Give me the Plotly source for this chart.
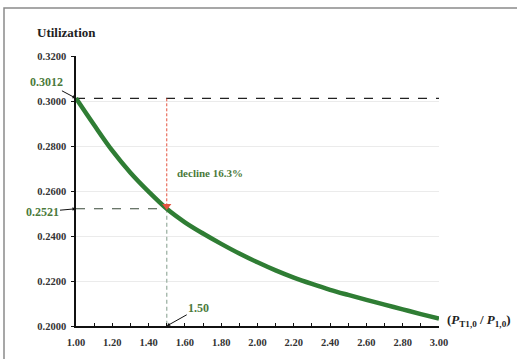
import plotly.graph_objects as go

# ---- data ----
ratio = [1.0, 1.1, 1.2, 1.3, 1.4, 1.5, 1.6, 1.7, 1.8, 1.9, 2.0,
         2.1, 2.2, 2.3, 2.4, 2.5, 2.6, 2.7, 2.8, 2.9, 3.0]
utilization = [0.3012, 0.2893, 0.2779, 0.2681, 0.2597, 0.2521, 0.2461, 0.2411, 0.2365, 0.2322, 0.2283,
               0.2247, 0.2215, 0.2187, 0.2161, 0.2138, 0.2116, 0.2095, 0.2074, 0.2053, 0.2033]
start_x, start_y = 1.0, 0.3012
mark_x, mark_y = 1.5, 0.2521
x_end = 3.0
y_min = 0.2
decline_text = "decline 16.3%"
y_title = "Utilization"
x_title = "(<i>P</i><sub>T1,0</sub> / <i>P</i><sub>1,0</sub>)"

SERIF = "Liberation Serif"
GREEN = "#2f7d34"
LABEL_GREEN = "#4b7a3c"
RED = "#e5533f"

fig = go.Figure()

# reference dashed lines
fig.add_trace(go.Scatter(x=[start_x, x_end], y=[start_y, start_y], mode="lines",
                         line=dict(color="#222222", width=1.3, dash="dash"), hoverinfo="skip"))
fig.add_trace(go.Scatter(x=[start_x, mark_x], y=[mark_y, mark_y], mode="lines",
                         line=dict(color="#3a4a3a", width=1.2, dash="dash"), hoverinfo="skip"))
fig.add_trace(go.Scatter(x=[mark_x, mark_x], y=[start_y, mark_y + 0.002], mode="lines",
                         line=dict(color=RED, width=1, dash="3px,2px"), hoverinfo="skip"))
fig.add_trace(go.Scatter(x=[mark_x, mark_x], y=[mark_y, y_min], mode="lines",
                         line=dict(color="#9fb3a6", width=1.3, dash="4px,3px"), hoverinfo="skip",
                         cliponaxis=False))

# main curve
fig.add_trace(go.Scatter(x=ratio, y=utilization, mode="lines",
                         line=dict(color=GREEN, width=4.5, shape="spline"), hoverinfo="skip"))

# red arrow head
fig.add_trace(go.Scatter(x=[mark_x], y=[mark_y + 0.0012], mode="markers",
                         marker=dict(symbol="triangle-down", size=8, color=RED), hoverinfo="skip"))

lab_font = dict(family=SERIF, size=12, color=LABEL_GREEN)
anns = [
    # title
    dict(x=(35 - 76) / 363, y=(326 - 32) / 270, xref="paper", yref="paper", text="<b>" + y_title + "</b>",
         showarrow=False, xanchor="left", yanchor="middle",
         font=dict(family=SERIF, size=13, color="#222")),
    # x title
    dict(x=(445 - 76) / 363, y=(326 - 320) / 270, xref="paper", yref="paper", text="<b>" + x_title + "</b>",
         showarrow=False, xanchor="left", yanchor="middle",
         font=dict(family=SERIF, size=13, color="#222")),
    # value labels with arrows
    dict(x=start_x, y=start_y, ax=-30, ay=-16, text="<b>%.4f</b>" % start_y, showarrow=True,
         arrowhead=2, arrowsize=0.7, arrowwidth=1, arrowcolor="#111", font=lab_font),
    dict(x=start_x, y=mark_y, ax=-34, ay=3, text="<b>%.4f</b>" % mark_y, showarrow=True,
         arrowhead=2, arrowsize=0.7, arrowwidth=1, arrowcolor="#111", font=lab_font),
    dict(x=mark_x, y=y_min, ax=32, ay=-18, text="<b>%.2f</b>" % mark_x, showarrow=True,
         arrowhead=2, arrowsize=0.7, arrowwidth=1, arrowcolor="#111", font=lab_font),
    # decline text
    dict(x=(175 - 76) / 363, y=(326 - 173) / 270, xref="paper", yref="paper",
         text="<b>" + decline_text + "</b>", showarrow=False, xanchor="left", yanchor="middle",
         font=dict(family=SERIF, size=11, color=LABEL_GREEN)),
]

fig.update_layout(
    width=517, height=359,
    margin=dict(l=76, r=78, t=56, b=33),
    paper_bgcolor="white", plot_bgcolor="white",
    showlegend=False,
    annotations=anns,
    shapes=[dict(type="rect", xref="paper", yref="paper",
                 x0=(4 - 76) / 363, x1=(522 - 76) / 363,
                 y0=(326 - 365) / 270, y1=(326 - 8) / 270,
                 line=dict(color="#8a8a8a", width=1.5), fillcolor="rgba(0,0,0,0)", layer="below")],
    xaxis=dict(range=[1.0, 3.0], dtick=0.2, tick0=1.0, tickformat=".2f",
               showgrid=False, zeroline=False,
               showline=True, linecolor="#111", linewidth=1.5,
               ticks="inside", ticklen=3, tickcolor="#111",
               minor=dict(dtick=0.1, ticks="inside", ticklen=3, tickcolor="#111"),
               ticklabelstandoff=6,
               tickfont=dict(family=SERIF, size=10.5, color="#333", weight="bold")),
    yaxis=dict(range=[0.2, 0.32], dtick=0.02, tick0=0.2, tickformat=".4f",
               showgrid=True, gridcolor="#ebebeb", gridwidth=1, zeroline=False,
               showline=True, linecolor="#111", linewidth=1.5,
               ticks="outside", ticklen=3, tickcolor="#111",
               ticklabelstandoff=3,
               tickfont=dict(family=SERIF, size=10.5, color="#333", weight="bold")),
)

fig.write_html("out.html", config={"displayModeBar": False},
               post_script="document.body.style.margin='0';")
